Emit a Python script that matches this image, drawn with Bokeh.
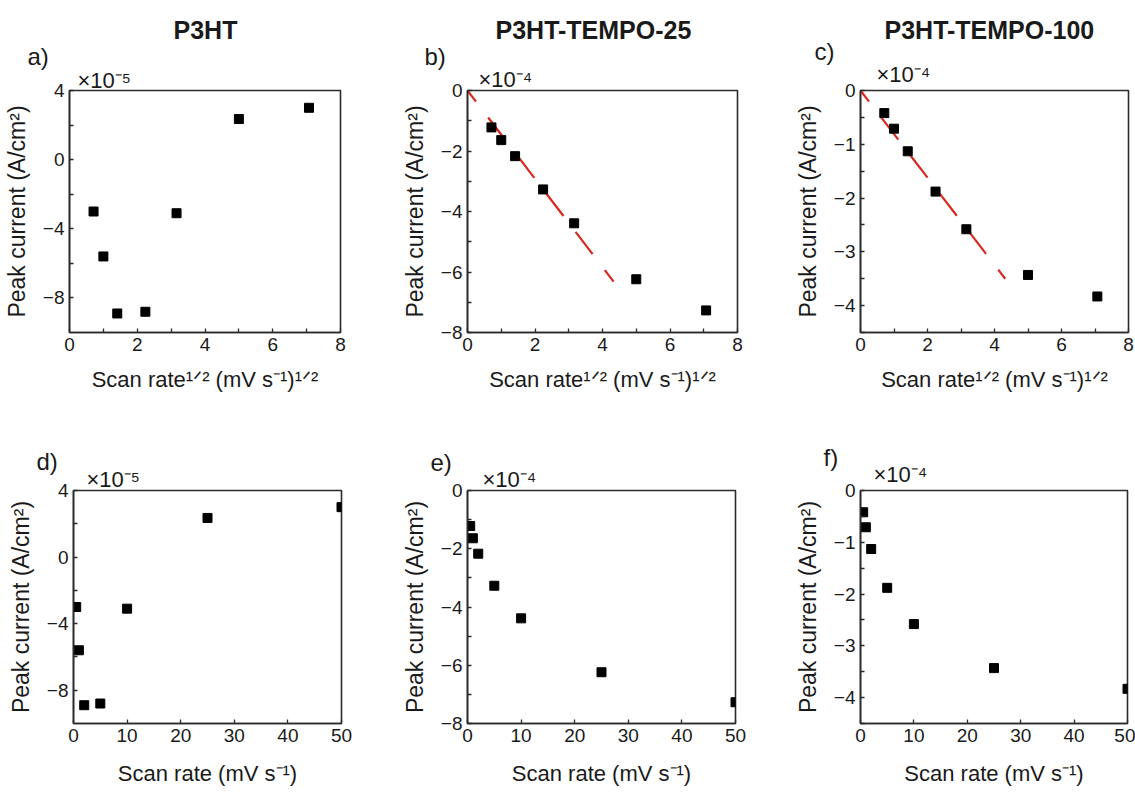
from bokeh.plotting import figure
from bokeh.layouts import column, row
from bokeh.models import FixedTicker, Range1d, Title
from bokeh.embed import file_html
from bokeh.resources import INLINE

# ---------------- data ----------------
scan_rate = [0.5, 1, 2, 5, 10, 25, 50]                       # mV s^-1
sqrt_scan_rate = [0.71, 1.0, 1.41, 2.24, 3.16, 5.0, 7.07]     # (mV s^-1)^1/2

p3ht_current = [-3.0, -5.6, -8.9, -8.8, -3.1, 2.35, 3.0]          # x1e-5 A/cm2
tempo25_current = [-1.22, -1.64, -2.17, -3.27, -4.39, -6.24, -7.27]  # x1e-4 A/cm2
tempo100_current = [-0.42, -0.71, -1.13, -1.88, -2.58, -3.43, -3.83]  # x1e-4 A/cm2

tempo25_fit_x = [0.0, 4.33]
tempo25_fit_y = [0.0, -6.32]
tempo100_fit_x = [0.0, 4.32]
tempo100_fit_y = [0.0, -3.5]

titles = ["P3HT", "P3HT-TEMPO-25", "P3HT-TEMPO-100"]
panel_letters = ["a)", "b)", "c)", "d)", "e)", "f)"]
exponents = ["×10⁻⁵", "×10⁻⁴", "×10⁻⁴"]

xlabel_sqrt = "Scan rate¹ᐟ² (mV s⁻¹)¹ᐟ²"
xlabel_lin = "Scan rate (mV s⁻¹)"
ylabel = "Peak current (A/cm²)"

sqrt_major = [0, 2, 4, 6, 8]
sqrt_minor = [1, 3, 5, 7]
lin_major = [0, 10, 20, 30, 40, 50]

p3ht_major = [-8, -4, 0, 4]
p3ht_minor = [-6, -2, 2]
t25_major = [-8, -6, -4, -2, 0]
t25_minor = [-7, -5, -3, -1]
t100_major = [-4, -3, -2, -1, 0]
t100_minor = [-4.5, -3.5, -2.5, -1.5, -0.5]

FONT = "Liberation Sans"
AX = "#2b2b2b"
TXT = "#1a1a1a"
RED = "#d8281f"

EXP_PX, LET_PX, TIT_PX = 22, 24, 25


def standoffs(targets, sizes):
    """Spacing for stacked titles so that each text centre sits at the wanted
    distance above the frame."""
    out = []
    end = 0.0
    for c, fs in zip(targets, sizes):
        h = 1.15 * fs + 2
        s = 2 * (c - end - h / 2)
        out.append(s)
        end = end + h + s
    return out


def panel(x, y, xr, yr, xmaj, xmin, ymaj, ymin, xlabel, width, height,
          left, right, top, bottom, letter, letter_x, expo, expo_x,
          stack_targets, title=None, title_x=0, fit=None, xlab_standoff=12):
    p = figure(width=width, height=height, output_backend="svg",
               toolbar_location=None, x_range=Range1d(*xr), y_range=Range1d(*yr),
               min_border_left=left, min_border_right=right,
               min_border_top=top, min_border_bottom=bottom, title_location=None)
    p.background_fill_color = "white"
    p.border_fill_color = "white"
    p.outline_line_color = AX
    p.outline_line_width = 1.6
    p.xgrid.grid_line_color = None
    p.ygrid.grid_line_color = None
    p.xaxis.ticker = FixedTicker(ticks=xmaj, minor_ticks=xmin)
    p.yaxis.ticker = FixedTicker(ticks=ymaj, minor_ticks=ymin)
    for ax in (p.xaxis, p.yaxis):
        ax.axis_line_color = AX
        ax.axis_line_width = 1.6
        ax.major_tick_in = 4
        ax.major_tick_out = 0
        ax.minor_tick_in = 4
        ax.minor_tick_out = 0
        ax.major_tick_line_color = AX
        ax.minor_tick_line_color = AX
        ax.major_tick_line_width = 1.3
        ax.minor_tick_line_width = 1.3
        ax.major_label_text_font = FONT
        ax.major_label_text_font_size = "19px"
        ax.major_label_text_color = TXT
        ax.axis_label_text_font = FONT
        ax.axis_label_text_font_style = "normal"
        ax.axis_label_text_color = TXT
        ax.major_label_standoff = 5
    p.xaxis.axis_label = xlabel
    p.yaxis.axis_label = ylabel
    p.xaxis.axis_label_text_font_size = "22px"
    p.yaxis.axis_label_text_font_size = "23px"
    p.xaxis.axis_label_standoff = xlab_standoff
    p.yaxis.axis_label_standoff = 10

    if fit is not None:
        p.line(fit[0], fit[1], line_color=RED, line_width=2.2,
               line_dash="28 20", line_dash_offset=14)
    p.scatter(x, y, marker="square", size=9, fill_color="black", line_color="black")

    sizes = [EXP_PX, LET_PX] + ([TIT_PX] if title else [])
    so = standoffs(stack_targets, sizes)
    p.add_layout(Title(text=expo, align="left", offset=expo_x, standoff=so[0],
                       text_font=FONT, text_font_size=f"{EXP_PX}px",
                       text_font_style="normal", text_color=TXT), "above")
    p.add_layout(Title(text=letter, align="left", offset=letter_x, standoff=so[1],
                       text_font=FONT, text_font_size=f"{LET_PX}px",
                       text_font_style="normal", text_color=TXT), "above")
    if title:
        p.add_layout(Title(text=title, align="left", offset=title_x, standoff=so[2],
                           text_font=FONT, text_font_size=f"{TIT_PX}px",
                           text_font_style="bold", text_color=TXT), "above")
    return p


TOP_H, BOT_H = 396, 396

pa = panel(sqrt_scan_rate, p3ht_current, (0, 8), (-10, 4), sqrt_major, sqrt_minor,
           p3ht_major, p3ht_minor, xlabel_sqrt, 398, TOP_H, 69, 58, 90, 64,
           panel_letters[0], -42, exponents[0], 8, (11, 35, 63), titles[0], 104,
           xlab_standoff=13)
pb = panel(sqrt_scan_rate, tempo25_current, (0, 8), (-8, 0), sqrt_major, sqrt_minor,
           t25_major, t25_minor, xlabel_sqrt, 393, TOP_H, 69, 54, 90, 64,
           panel_letters[1], -43, exponents[1], 11, (12, 35, 63), titles[1], 28,
           fit=(tempo25_fit_x, tempo25_fit_y), xlab_standoff=13)
pc = panel(sqrt_scan_rate, tempo100_current, (0, 8), (-4.5, 0), sqrt_major, sqrt_minor,
           t100_major, t100_minor, xlabel_sqrt, 344, TOP_H, 69, 7, 90, 64,
           panel_letters[2], -46, exponents[2], 16, (17, 40, 63), titles[2], 24,
           fit=(tempo100_fit_x, tempo100_fit_y), xlab_standoff=13)

pd = panel(scan_rate, p3ht_current, (0, 50), (-10, 4), lin_major, [],
           p3ht_major, p3ht_minor, xlabel_lin, 398, BOT_H, 73, 57, 94, 60,
           panel_letters[3], -37, exponents[0], 13, (12, 30), xlab_standoff=16)
pe = panel(scan_rate, tempo25_current, (0, 50), (-8, 0), lin_major, [],
           t25_major, t25_minor, xlabel_lin, 393, BOT_H, 68, 56, 91, 62,
           panel_letters[4], -37, exponents[1], 15, (12, 29), xlab_standoff=16)
pf = panel(scan_rate, tempo100_current, (0, 50), (-4.5, 0), lin_major, [],
           t100_major, t100_minor, xlabel_lin, 344, BOT_H, 68, 8, 87, 69,
           panel_letters[5], -37, exponents[2], 13, (17, 34), xlab_standoff=16)

layout = column(row(pa, pb, pc, spacing=0), row(pd, pe, pf, spacing=0), spacing=0)

with open("out.html", "w") as f:
    f.write(file_html(layout, INLINE))
